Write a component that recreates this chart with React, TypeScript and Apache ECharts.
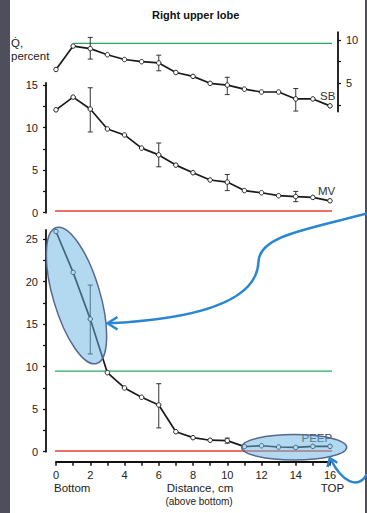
import React, { useEffect, useRef } from "react";
import * as echarts from "echarts";

// ---- data ----
const distances = [0, 1, 2, 3, 4, 5, 6, 7, 8, 9, 10, 11, 12, 13, 14, 15, 16];
const sbValues = [6.6, 9.3, 9.0, 8.3, 7.75, 7.5, 7.35, 6.25, 5.8, 5.0, 4.8, 4.33, 4.0, 4.0, 3.2, 3.2, 2.4];
const mvValues = [12.1, 13.6, 12.2, 9.85, 9.15, 7.6, 6.8, 5.6, 4.7, 3.85, 3.6, 2.6, 2.35, 2.0, 1.9, 1.8, 1.4];
const peepValues = [25.9, 21.1, 15.6, 9.3, 7.5, 6.4, 5.5, 2.35, 1.65, 1.35, 1.3, 0.6, 0.7, 0.55, 0.5, 0.63, 0.63];

// error bars: [distance, low, high]
const sbErrors = [[2, 7.8, 10.3], [6, 6.45, 8.25], [10, 3.7, 5.7], [14, 1.8, 4.4]];
const mvErrors = [[2, 9.5, 14.7], [6, 5.4, 8.2], [10, 2.6, 4.5], [14, 1.3, 2.5]];
const peepErrors = [[2, 11.5, 19.6], [6, 2.8, 8.0], [10, 1.0, 1.6], [14, 0.42, 0.62]];

// reference lines: [[xStart, y], [xEnd, y]]
const sbGreenRef = [[1.03, 9.62], [16.45, 9.62]];
const mvRedRef = [[-0.35, 0.2], [16.45, 0.2]];
const peepGreenRef = [[-0.35, 9.49], [16.45, 9.49]];
const peepRedRef = [[-0.35, 0.08], [16.45, 0.08]];

// tick labels
const xTickLabels = [0, 2, 4, 6, 8, 10, 12, 14, 16];
const xTicks = distances;
const sbTicks = [2.5, 5, 7.5, 10];
const sbLabels = [5, 10];
const mvTicks = [0, 2.5, 5, 7.5, 10, 12.5, 15];
const mvLabels = [0, 5, 10, 15];
const peepTicks = [0, 2.5, 5, 7.5, 10, 12.5, 15, 17.5, 20, 22.5, 25];
const peepLabels = [0, 5, 10, 15, 20, 25];

const FONT = "Liberation Sans, Arial, Helvetica, sans-serif";
const INK = "#1a1a1a";
const GREEN = "#2aa862";
const RED = "#e8402f";
const BLUE = "#2a86d0";
const FILL = "rgba(102,180,224,0.5)";
const EDGE = "#5a6890";

function pairs(vals: number[]) {
  return distances.map((d, i) => [d, vals[i]]);
}

function errorSeries(data: number[][], gi: number) {
  return {
    type: "custom",
    xAxisIndex: gi,
    yAxisIndex: gi,
    data,
    encode: { x: 0, y: [1, 2] },
    z: 3,
    renderItem: (_p: any, api: any) => {
      const x = api.value(0);
      const lo = api.coord([x, api.value(1)]);
      const hi = api.coord([x, api.value(2)]);
      const w = 2.5;
      const st = { stroke: "#333", lineWidth: 1 };
      return {
        type: "group",
        children: [
          { type: "line", shape: { x1: lo[0], y1: lo[1], x2: hi[0], y2: hi[1] }, style: st },
          { type: "line", shape: { x1: lo[0] - w, y1: lo[1], x2: lo[0] + w, y2: lo[1] }, style: st },
          { type: "line", shape: { x1: hi[0] - w, y1: hi[1], x2: hi[0] + w, y2: hi[1] }, style: st },
        ],
      };
    },
  };
}

function mainLine(vals: number[], gi: number) {
  return {
    type: "line",
    xAxisIndex: gi,
    yAxisIndex: gi,
    data: pairs(vals),
    symbol: "circle",
    symbolSize: 4.5,
    lineStyle: { color: INK, width: 1.7 },
    itemStyle: { color: "#fff", borderColor: "#222", borderWidth: 1 },
    z: 4,
  };
}

function refLine(data: number[][], gi: number, color: string) {
  return {
    type: "line",
    xAxisIndex: gi,
    yAxisIndex: gi,
    data,
    symbol: "none",
    clip: false,
    lineStyle: { color, width: 1.3 },
    z: 1,
  };
}

const labelStyle = { fontFamily: FONT, fontSize: 11, color: "#222" };

function axisLine() {
  return { show: true, onZero: false, lineStyle: { color: "#111", width: 1.8 } };
}

export default function App() {
  const ref = useRef<HTMLDivElement>(null);
  useEffect(() => {
    document.body.style.margin = "0";
    if (!ref.current) return;
    const chart = echarts.init(ref.current, null, { renderer: "svg" });
    const option: any = {
      animation: false,
      backgroundColor: "transparent",
      title: {
        text: "Right upper lobe",
        left: 147,
        top: 4,
        textStyle: { fontFamily: FONT, fontSize: 11, fontWeight: "bold", color: "#111" },
      },
      grid: [
        { left: 56, right: 37, top: 32.2, height: 79.3 },
        { left: 56, right: 37, top: 83, height: 129.7 },
        { left: 56, right: 37, top: 230, height: 221.7 },
      ],
      xAxis: [0, 1, 2].map((gi) => ({
        type: "value",
        gridIndex: gi,
        min: 0,
        max: 16,
        show: gi === 2,
        position: "bottom",
        offset: 10,
        splitLine: { show: false },
        axisLine: axisLine(),
        axisTick: { show: true, customValues: xTicks, length: 4, lineStyle: { color: "#111", width: 1.5 } },
        axisLabel: { customValues: xTickLabels, margin: 8, ...labelStyle },
      })),
      yAxis: [
        {
          type: "value",
          gridIndex: 0,
          position: "right",
          offset: 8,
          min: 1.75,
          max: 10.9,
          splitLine: { show: false },
          axisLine: axisLine(),
          axisTick: { show: true, customValues: sbTicks, length: 3, lineStyle: { color: "#111", width: 1.2 } },
          axisLabel: { customValues: sbLabels, margin: 8, ...labelStyle },
        },
        {
          type: "value",
          gridIndex: 1,
          position: "left",
          offset: 10,
          min: 0,
          max: 15.26,
          splitLine: { show: false },
          axisLine: axisLine(),
          axisTick: { show: true, customValues: mvTicks, length: 3, lineStyle: { color: "#111", width: 1.2 } },
          axisLabel: { customValues: mvLabels, margin: 8, ...labelStyle },
        },
        {
          type: "value",
          gridIndex: 2,
          position: "left",
          offset: 10,
          min: 0,
          max: 26.08,
          splitLine: { show: false },
          axisLine: axisLine(),
          axisTick: { show: true, customValues: peepTicks, length: 3, lineStyle: { color: "#111", width: 1.2 } },
          axisLabel: { customValues: peepLabels, margin: 8, ...labelStyle },
        },
      ],
      series: [
        refLine(sbGreenRef, 0, GREEN),
        mainLine(sbValues, 0),
        errorSeries(sbErrors, 0),
        refLine(mvRedRef, 1, RED),
        mainLine(mvValues, 1),
        errorSeries(mvErrors, 1),
        refLine(peepGreenRef, 2, GREEN),
        refLine(peepRedRef, 2, RED),
        mainLine(peepValues, 2),
        errorSeries(peepErrors, 2),
      ],
      graphic: [
        { type: "text", x: 11, y: 43, z: 50, style: { text: "Q\u0307,", font: `11.5px ${FONT}`, fill: "#222", textVerticalAlign: "middle" } },
        { type: "text", x: 11, y: 55.5, z: 50, style: { text: "percent", font: `11.5px ${FONT}`, fill: "#222", textVerticalAlign: "middle" } },
        { type: "text", x: 320, y: 95.7, z: 50, style: { text: "SB", font: `11.5px ${FONT}`, fill: "#333", textVerticalAlign: "middle" } },
        { type: "text", x: 318, y: 190.7, z: 50, style: { text: "MV", font: `11.5px ${FONT}`, fill: "#333", textVerticalAlign: "middle" } },
        { type: "text", x: 301.5, y: 437.7, z: 50, style: { text: "PEEP", font: `11.5px ${FONT}`, fill: "#444", textVerticalAlign: "middle" } },
        { type: "text", x: 54, y: 488.3, z: 50, style: { text: "Bottom", font: `11.5px ${FONT}`, fill: "#222", textVerticalAlign: "middle" } },
        { type: "text", x: 200, y: 488.3, z: 50, style: { text: "Distance, cm", font: `11.5px ${FONT}`, fill: "#222", textAlign: "center", textVerticalAlign: "middle" } },
        { type: "text", x: 199, y: 501.7, z: 50, style: { text: "(above bottom)", font: `10px ${FONT}`, fill: "#222", textAlign: "center", textVerticalAlign: "middle" } },
        { type: "text", x: 332.5, y: 488.3, z: 50, style: { text: "TOP", font: `11.5px ${FONT}`, fill: "#222", textAlign: "center", textVerticalAlign: "middle" } },
        {
          type: "ellipse",
          x: 76.5,
          y: 295.5,
          rotation: 0.288,
          z: 100,
          shape: { cx: 0, cy: 0, rx: 23.4, ry: 70.9 },
          style: { fill: FILL, stroke: EDGE, lineWidth: 1.5 },
        },
        {
          type: "ellipse",
          z: 100,
          shape: { cx: 294.2, cy: 447.2, rx: 52.5, ry: 12.8 },
          style: { fill: FILL, stroke: EDGE, lineWidth: 1.5 },
        },
        {
          type: "bezierCurve",
          z: 110,
          shape: { x1: 367, y1: 213.5, cpx1: 305, cpy1: 230, cpx2: 259, cpy2: 236, x2: 258.5, y2: 262 },
          style: { stroke: BLUE, lineWidth: 2.5, fill: "none" },
        },
        {
          type: "bezierCurve",
          z: 110,
          shape: { x1: 258.5, y1: 262, cpx1: 257, cpy1: 295, cpx2: 215, cpy2: 318, x2: 108, y2: 323.3 },
          style: { stroke: BLUE, lineWidth: 2.5, fill: "none" },
        },
        {
          type: "polyline",
          z: 110,
          shape: { points: [[117.5, 317], [107.5, 323.3], [117.5, 329.5]] },
          style: { stroke: BLUE, lineWidth: 2.5, fill: "none" },
        },
        {
          type: "bezierCurve",
          z: 110,
          shape: { x1: 367, y1: 474, cpx1: 358, cpy1: 490, cpx2: 342, cpy2: 482, x2: 330.5, y2: 459 },
          style: { stroke: BLUE, lineWidth: 2.5, fill: "none" },
        },
        {
          type: "polyline",
          z: 110,
          shape: { points: [[327.5, 467], [329.8, 458], [337.3, 462.7]] },
          style: { stroke: BLUE, lineWidth: 2.5, fill: "none" },
        },
      ],
    };
    chart.setOption(option);
    return () => chart.dispose();
  }, []);

  return (
    <div style={{ position: "fixed", left: 0, top: 0, width: 367, height: 513, background: "#4f4e5b", overflow: "hidden" }}>
      <div style={{ position: "absolute", left: 10, top: 0, width: 355, height: 513, background: "#fff" }} />
      <div ref={ref} style={{ position: "absolute", left: 0, top: 0, width: 367, height: 513 }} />
    </div>
  );
}
